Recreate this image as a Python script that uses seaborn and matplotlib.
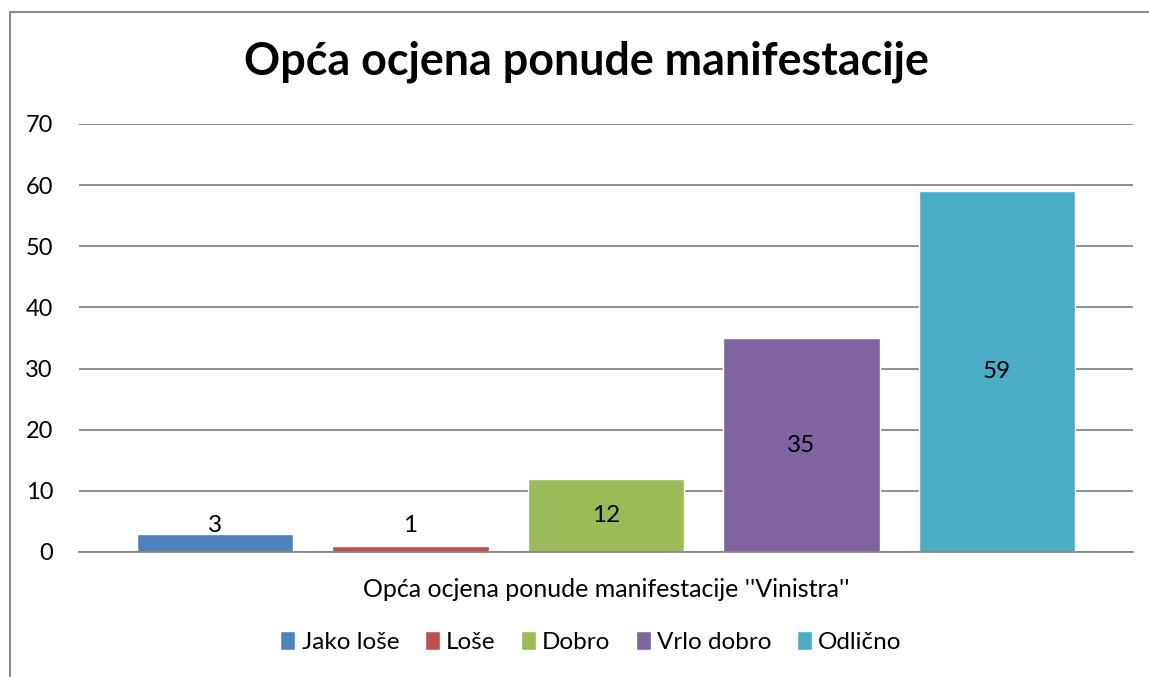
import matplotlib
matplotlib.use("Agg")
from matplotlib import pyplot as plt
import seaborn as sns
import pandas as pd
from matplotlib.patches import Rectangle

sns.set_style("white")
plt.rcParams['font.family'] = ['Lato', 'DejaVu Sans']
plt.rcParams['text.color'] = 'black'
plt.rcParams['xtick.color'] = 'black'
plt.rcParams['ytick.color'] = 'black'

# data
category = "Opća ocjena ponude manifestacije ''Vinistra''"
ratings = ["Jako loše", "Loše", "Dobro", "Vrlo dobro", "Odlično"]
counts = [3, 1, 12, 35, 59]
colors = ["#4F81BD", "#C0504D", "#9BBB59", "#8064A2", "#4BACC6"]
yticks = [0, 10, 20, 30, 40, 50, 60, 70]

data = pd.DataFrame({'cat': [category] * len(ratings), 'rating': ratings, 'count': counts})

fig = plt.figure(figsize=(11.49, 6.77), dpi=100)
ax = fig.add_axes([79 / 1149, 1 - 552 / 677, (1133 - 79) / 1149, (552 - 124) / 677])

sns.barplot(data=data, x='cat', y='count', hue='rating', hue_order=ratings,
            palette=colors, width=0.927, gap=0.2, saturation=1, ax=ax, legend=True)

ax.set_xlim(-0.5, 0.5)
ax.set_ylim(0, 70)
ax.set_yticks(yticks)
ax.yaxis.grid(True, color='#868686', lw=1.3)
ax.set_axisbelow(True)
ax.tick_params(axis='y', labelsize=17, length=0, pad=18.7)
ax.tick_params(axis='x', labelsize=18, length=0, pad=19)
ax.set_xlabel('')
ax.set_ylabel('')
for s in ['top', 'right', 'left']:
    ax.spines[s].set_visible(False)
ax.spines['bottom'].set_color('#868686')
ax.spines['bottom'].set_linewidth(1.3)

# data labels centred in bars, kept above the axis for small bars
for cont in ax.containers:
    for bar in cont:
        h = bar.get_height()
        ax.text(bar.get_x() + bar.get_width() / 2, max(h / 2, 4.4), f"{h:.0f}",
                ha='center', va='center', fontsize=17.5, color='black')

ax.legend(loc='center', bbox_to_anchor=(591 / 1149, 1 - 642 / 677),
          bbox_transform=fig.transFigure, ncol=5, frameon=False, fontsize=17.5,
          handlelength=0.62, handleheight=0.8, handletextpad=0.25, columnspacing=1.05)

fig.text(586 / 1149, 1 - 62 / 677, "Opća ocjena ponude manifestacije",
         ha='center', va='center', fontsize=32.3, fontweight='bold', color='black')

# chart frame
fig.patches.append(Rectangle((10 / 1149, -0.1), 1.2, 1 - 12 / 677 + 0.1, transform=fig.transFigure,
                             fill=False, ec='#8c8c8c', lw=1.5))

fig.savefig('out.png', dpi=100)
